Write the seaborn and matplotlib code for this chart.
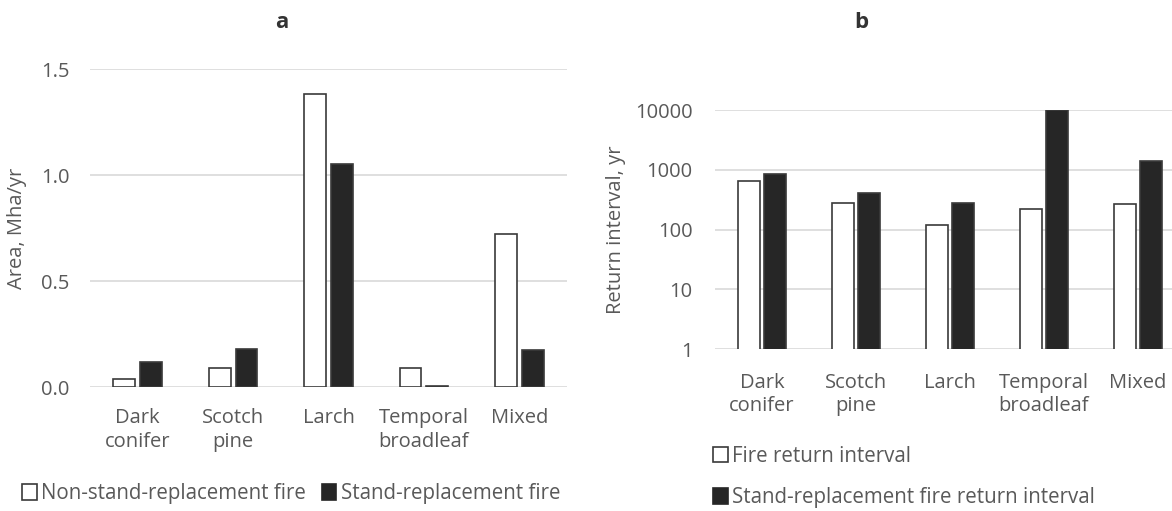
import matplotlib
matplotlib.use("Agg")
import matplotlib.pyplot as plt
from matplotlib.patches import Patch
from matplotlib.ticker import FixedLocator, NullLocator
import seaborn as sns
import pandas as pd

# Forest types
forests = ["Dark\nconifer", "Scotch\npine", "Larch", "Temporal\nbroadleaf", "Mixed"]

# Panel a: annual burned area, Mha/yr
area_non_stand = [0.04, 0.09, 1.38, 0.09, 0.72]
area_stand = [0.12, 0.18, 1.05, 0.006, 0.175]

# Panel b: return intervals, yr
ri_fire = [650, 280, 120, 220, 265]
ri_stand = [860, 410, 280, 10000, 1380]

area_labels = ["Non-stand-replacement fire", "Stand-replacement fire"]
ri_labels = ["Fire return interval", "Stand-replacement fire return interval"]
area_ticks = [0.0, 0.5, 1.0, 1.5]
ri_ticks = [1, 10, 100, 1000, 10000]

sns.set_theme(style="white")
plt.rcParams["font.family"] = ["Open Sans", "DejaVu Sans"]

TEXT = "#595959"
GRID = "#d9d9d9"
EDGE = "#3a3a3a"
DARK = "#262626"
palette = ["white", DARK]

df_a = pd.DataFrame({
    "forest": forests * 2,
    "value": area_non_stand + area_stand,
    "type": [area_labels[0]] * 5 + [area_labels[1]] * 5,
})
df_b = pd.DataFrame({
    "forest": forests * 2,
    "value": ri_fire + ri_stand,
    "type": [ri_labels[0]] * 5 + [ri_labels[1]] * 5,
})

fig = plt.figure(figsize=(11.72, 5.11), dpi=100)
ax_a = fig.add_axes([90 / 1172, 1 - 387 / 511, 477 / 1172, 318 / 511])
ax_b = fig.add_axes([715 / 1172, 1 - 349 / 511, 470 / 1172, 239 / 511])

sns.barplot(data=df_a, x="forest", y="value", hue="type", palette=palette,
            width=0.56, gap=0.18, edgecolor=EDGE, linewidth=1.2,
            legend=False, ax=ax_a)
sns.barplot(data=df_b, x="forest", y="value", hue="type", palette=palette,
            width=0.55, gap=0.17, edgecolor=EDGE, linewidth=1.2,
            legend=False, ax=ax_b)

# Panel a axis styling
ax_a.set_ylim(0, 1.5)
ax_a.yaxis.set_major_locator(FixedLocator(area_ticks))
ax_a.set_yticklabels([f"{t:.1f}" for t in area_ticks])
ax_a.set_xlim(-0.5, 4.5)

# Panel b: logarithmic value axis
ax_b.set_yscale("log", nonpositive="clip")
ax_b.set_ylim(1, 10000)
ax_b.yaxis.set_major_locator(FixedLocator(ri_ticks))
ax_b.yaxis.set_minor_locator(NullLocator())
ax_b.set_yticklabels([str(t) for t in ri_ticks])
ax_b.set_xlim(-0.5, 4.5)

for ax in (ax_a, ax_b):
    for s in ax.spines.values():
        s.set_visible(False)
    ax.set_axisbelow(True)
    ax.yaxis.grid(True, color=GRID, linewidth=1.2)
    ax.xaxis.grid(False)
    ax.tick_params(axis="both", length=0, labelsize=14.5, colors=TEXT)
    ax.set_xlabel("")
    for lab in ax.get_xticklabels():
        lab.set_linespacing(1.25)

ax_a.tick_params(axis="y", pad=14.5)
ax_a.tick_params(axis="x", pad=15)
ax_b.tick_params(axis="y", pad=16)
ax_b.tick_params(axis="x", pad=17)

ax_a.set_ylabel("Area, Mha/yr", fontsize=14.5, color=TEXT)
ax_a.yaxis.set_label_coords(-0.132, 0.5)
ax_b.set_ylabel("Return interval, yr", fontsize=14.5, color=TEXT)
ax_b.yaxis.set_label_coords(-0.189, 0.5)

fig.text(282 / 1172, 1 - 22 / 511, "a", ha="center", va="center",
         fontsize=16, fontweight="bold", color="#333333")
fig.text(861 / 1172, 1 - 22 / 511, "b", ha="center", va="center",
         fontsize=16, fontweight="bold", color="#333333")

def handles(labels):
    return [Patch(facecolor=palette[i], edgecolor=EDGE if i == 0 else DARK,
                  linewidth=1.2, label=labels[i]) for i in range(2)]

fig.legend(handles=handles(area_labels), loc="center left",
           bbox_to_anchor=(12 / 1172, 1 - 494 / 511), ncol=2, frameon=False,
           fontsize=14.8, labelcolor=TEXT, handlelength=0.7, handleheight=0.8,
           handletextpad=0.2, columnspacing=0.8, borderpad=0)
fig.legend(handles=handles(ri_labels), loc="center left",
           bbox_to_anchor=(703 / 1172, 1 - 477 / 511), ncol=1, frameon=False,
           fontsize=14.8, labelcolor=TEXT, handlelength=0.7, handleheight=0.8,
           handletextpad=0.2, labelspacing=1.0, borderpad=0)

fig.savefig("out.png", dpi=100, facecolor="white")
